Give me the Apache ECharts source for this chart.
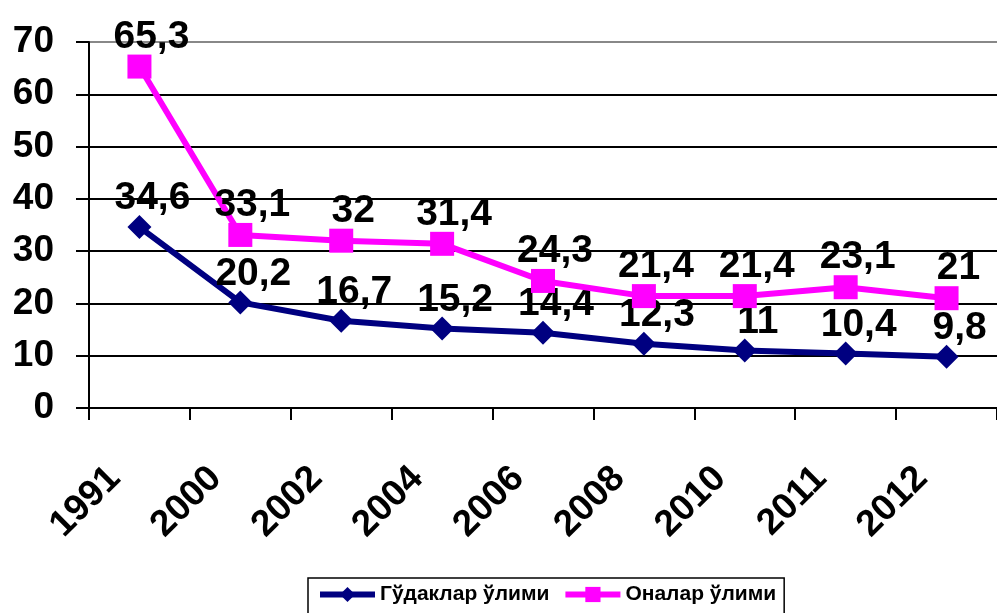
<!DOCTYPE html>
<html><head><meta charset="utf-8">
<script src="https://cdn.jsdelivr.net/npm/echarts@6/dist/echarts.min.js"></script>
<style>html,body{margin:0;padding:0;background:#fff}#c{width:997px;height:613px}</style>
</head><body><div id="c"></div>
<script>
const categories = ['1991','2000','2002','2004','2006','2008','2010','2011','2012'];
const infant = [34.6, 20.2, 16.7, 15.2, 14.4, 12.3, 11, 10.4, 9.8];
const maternal = [65.3, 33.1, 32, 31.4, 24.3, 21.4, 21.4, 23.1, 21];
const yTicks = {min: 0, max: 70, interval: 10};
const seriesNames = ['Гўдаклар ўлими', 'Оналар ўлими'];

const F = 'Liberation Sans, Arial, sans-serif';
const fmt = p => String(p.value).replace('.', ',');
const chart = echarts.init(document.getElementById('c'), null, {renderer: 'canvas'});
chart.setOption({
  animation: false,
  backgroundColor: '#fff',
  grid: {left: 89, right: 0, top: 42, bottom: 205, containLabel: false},
  legend: {
    left: 308, top: 578,
    data: seriesNames,
    borderColor: '#000', borderWidth: 1.5, borderRadius: 0,
    padding: [6, 8, 12, 9],
    itemWidth: 55, itemHeight: 19, itemGap: 13,
    lineStyle: {width: 6},
    textStyle: {fontFamily: F, fontWeight: 'bold', fontSize: 21, color: '#000'}
  },
  xAxis: {
    type: 'category', data: categories, boundaryGap: true,
    axisLine: {lineStyle: {color: '#000', width: 2}},
    axisTick: {show: true, alignWithLabel: false, length: 12, lineStyle: {color: '#000', width: 2}},
    axisLabel: {rotate: 45, margin: 40, padding: [0, 35, 0, 0], fontFamily: F, fontWeight: 'bold', fontSize: 37, color: '#000', interval: 0},
    splitLine: {show: false}
  },
  yAxis: {
    type: 'value', min: yTicks.min, max: yTicks.max, interval: yTicks.interval,
    axisLine: {show: true, lineStyle: {color: '#000', width: 2}},
    axisTick: {show: true, length: 13, lineStyle: {color: '#000', width: 2}},
    axisLabel: {margin: 35, fontFamily: F, fontWeight: 'bold', fontSize: 37, color: '#000'},
    splitLine: {show: true, lineStyle: {color: ['#000','#000','#000','#000','#000','#000','#000','#888'], width: 2}}
  },
  series: [
    {
      name: seriesNames[0], type: 'line', data: infant,
      color: '#000080',
      lineStyle: {color: '#000080', width: 6},
      symbol: 'diamond', symbolSize: 24,
      itemStyle: {color: '#000080'},
      label: {show: true, position: 'top', distance: 0, offset: [13, 3], formatter: fmt,
        fontFamily: F, fontWeight: 'bold', fontSize: 39, color: '#000'},
      z: 3
    },
    {
      name: seriesNames[1], type: 'line', data: maternal,
      color: '#FF00FF',
      lineStyle: {color: '#FF00FF', width: 6},
      symbol: 'rect', symbolSize: 24,
      itemStyle: {color: '#FF00FF'},
      label: {show: true, position: 'top', distance: 0, offset: [12, 2], formatter: fmt,
        fontFamily: F, fontWeight: 'bold', fontSize: 39, color: '#000'},
      z: 4
    }
  ]
});
</script></body></html>
